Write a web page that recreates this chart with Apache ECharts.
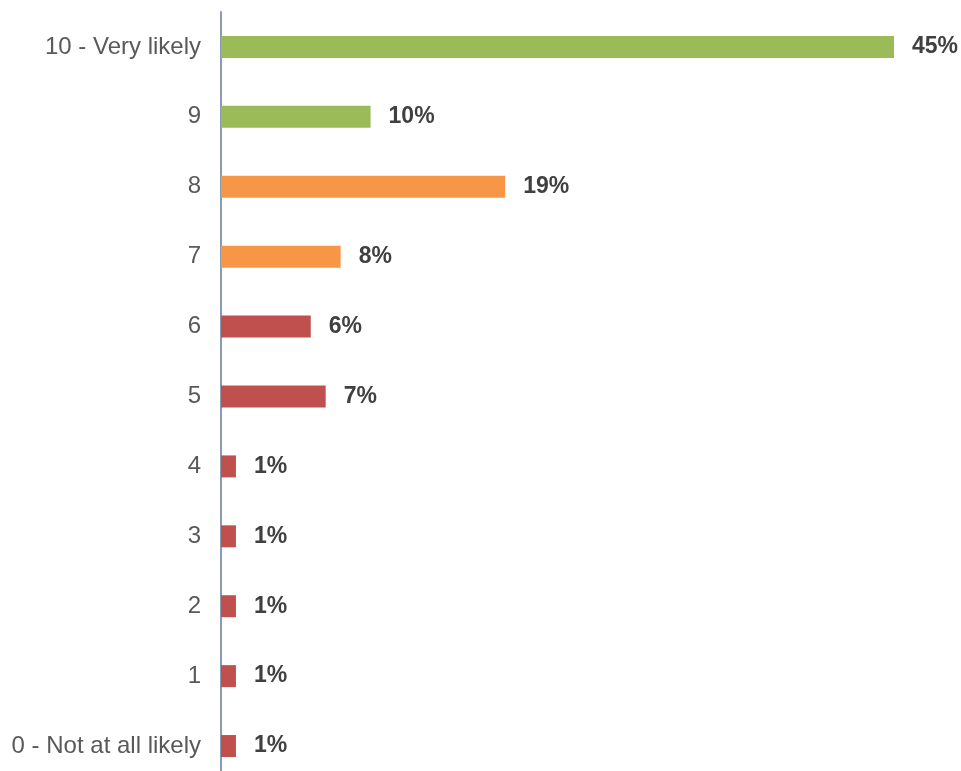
<!DOCTYPE html>
<html>
<head>
<meta charset="utf-8">
<style>
  html, body { margin: 0; padding: 0; background: #ffffff; }
  #chart { width: 961px; height: 771px; }
</style>
<script src="https://cdn.jsdelivr.net/npm/echarts@6/dist/echarts.min.js"></script>
</head>
<body>
<div id="chart"></div>
<script>
// Likelihood-to-recommend scores, listed bottom (0) to top (10)
const categories = ['0 - Not at all likely', '1', '2', '3', '4', '5', '6', '7', '8', '9', '10 - Very likely'];
const percents = [1, 1, 1, 1, 1, 7, 6, 8, 19, 10, 45];
// Group colours: detractors, passives, promoters
const groupColors = ['#C0504D', '#C0504D', '#C0504D', '#C0504D', '#C0504D', '#C0504D', '#C0504D',
                     '#F79646', '#F79646', '#9BBB59', '#9BBB59'];

const chart = echarts.init(document.getElementById('chart'), null, { renderer: 'canvas' });

chart.setOption({
  animation: false,
  // plot area runs a little past the bottom edge, so the last band is cut off
  grid: {
    left: 221, top: 12, width: 673, height: 769,
    containLabel: false,
    outerBoundsMode: 'none'
  },
  xAxis: {
    type: 'value',
    min: 0,
    max: 45,
    show: false
  },
  yAxis: {
    type: 'category',
    data: categories,
    axisLine: { show: true, lineStyle: { color: '#8A9BB0', width: 2 } },
    axisTick: { show: false },
    axisLabel: {
      color: '#595959',
      fontSize: 24,
      fontFamily: 'Liberation Sans, Arial, sans-serif',
      margin: 20
    }
  },
  series: [{
    type: 'bar',
    data: percents.map((v, i) => ({ value: v, itemStyle: { color: groupColors[i] } })),
    barWidth: 22,
    label: {
      show: true,
      position: 'right',
      distance: 18,
      formatter: p => p.value + '%',
      color: '#404040',
      fontSize: 23,
      fontWeight: 'bold',
      fontFamily: 'Liberation Sans, Arial, sans-serif'
    }
  }]
});
</script>
</body>
</html>
